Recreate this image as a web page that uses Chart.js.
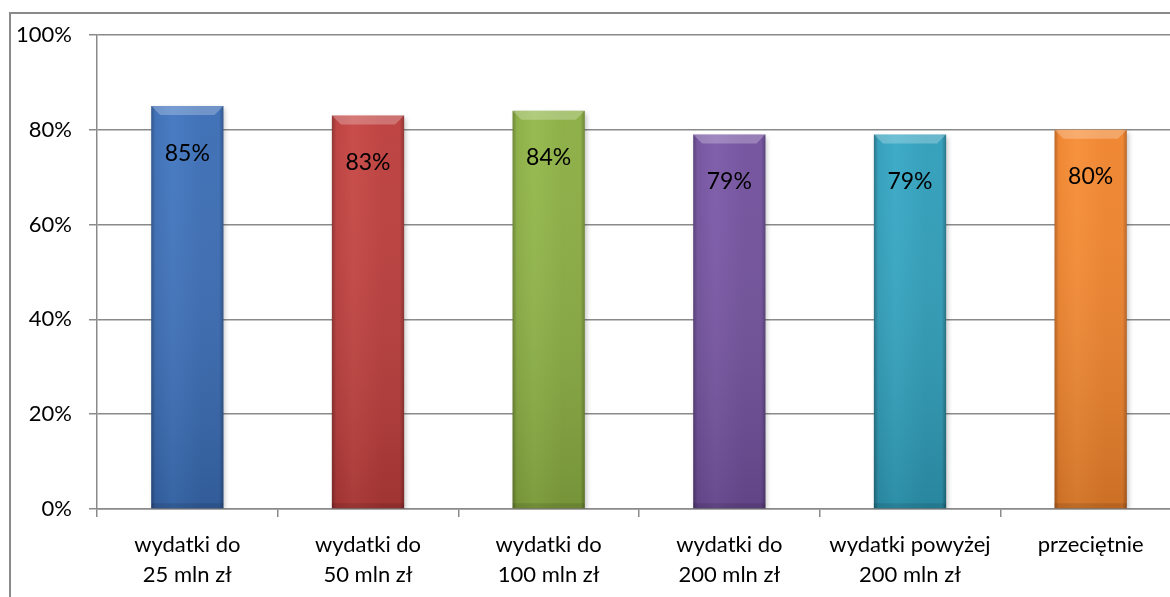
<!DOCTYPE html>
<html lang="pl">
<head>
<meta charset="utf-8">
<title>Wydatki</title>
<script src="https://cdn.jsdelivr.net/npm/chart.js@4"></script>
<style>
  html, body { margin: 0; padding: 0; background: #fff; overflow: hidden; }
  #frame {
    position: absolute; left: 9px; top: 12px;
    width: 1300px; height: 700px;
    border: 2px solid #8a8a8a; box-sizing: border-box;
  }
  #wrap { position: absolute; left: 0; top: 0; width: 1200px; height: 597px; }
</style>
</head>
<body>
<div id="frame"></div>
<div id="wrap"><canvas id="chart"></canvas></div>
<script>
const categories = [
    ['wydatki do', '25 mln zł'],
    ['wydatki do', '50 mln zł'],
    ['wydatki do', '100 mln zł'],
    ['wydatki do', '200 mln zł'],
    ['wydatki powyżej', '200 mln zł'],
    'przeciętnie'
];
const shares = [85, 83, 84, 79, 79, 80];
const yTicks = [0, 20, 40, 60, 80, 100];

// base, light and dark tone per bar
const barBase = ['#3a6cb4', '#bb3d3b', '#8aad42', '#71509c', '#2f9db9', '#ef832c'];
const barLight = ['#4176c0', '#c64643', '#93b84a', '#7b59a8', '#36a8c5', '#f78d35'];
const barDark = ['#2a5088', '#8c2d2c', '#67832f', '#543b75', '#226f84', '#b9601e'];

const BAR_PCT = 0.4;
const FONT = 'Lato, "Liberation Sans", sans-serif';

function barFill(context) {
    const chart = context.chart;
    const i = context.dataIndex;
    const area = chart.chartArea;
    const xs = chart.scales.x;
    if (!area || !xs) return barBase[i];
    const cx = xs.getPixelForValue(i);
    const half = (xs.width / categories.length) * BAR_PCT / 2;
    const g = chart.ctx.createLinearGradient(cx - half, 0, cx + half, 0);
    g.addColorStop(0, barDark[i]);
    g.addColorStop(0.06, barBase[i]);
    g.addColorStop(0.3, barLight[i]);
    g.addColorStop(0.7, barBase[i]);
    g.addColorStop(0.94, barBase[i]);
    g.addColorStop(1, barDark[i]);
    return g;
}

// soft shadow behind the bars
const barShadow = {
    id: 'barShadow',
    beforeDatasetsDraw(chart) {
        const ctx = chart.ctx;
        ctx.save();
        ctx.shadowColor = 'rgba(0,0,0,0.25)';
        ctx.shadowBlur = 5;
        ctx.shadowOffsetX = 2;
        ctx.shadowOffsetY = 2;
    },
    afterDatasetsDraw(chart) {
        chart.ctx.restore();
    }
};

// vertical shading and a bevelled top on every bar, then the value labels
const barFinish = {
    id: 'barFinish',
    afterDatasetsDraw(chart) {
        const ctx = chart.ctx;
        const meta = chart.getDatasetMeta(0);
        meta.data.forEach((bar, i) => {
            const left = bar.x - bar.width / 2;
            const right = bar.x + bar.width / 2;
            const top = bar.y;
            const bottom = bar.base;
            ctx.save();

            const v = ctx.createLinearGradient(0, top, 0, bottom);
            v.addColorStop(0, 'rgba(255,255,255,0.04)');
            v.addColorStop(1, 'rgba(0,0,0,0.15)');
            ctx.fillStyle = v;
            ctx.fillRect(left, top, bar.width, bottom - top);

            const b = 9;
            ctx.fillStyle = 'rgba(255,255,255,0.25)';
            ctx.beginPath();
            ctx.moveTo(left, top);
            ctx.lineTo(right, top);
            ctx.lineTo(right - b, top + b);
            ctx.lineTo(left + b, top + b);
            ctx.closePath();
            ctx.fill();

            ctx.fillStyle = 'rgba(0,0,0,0.1)';
            ctx.fillRect(left, bottom - 5, bar.width, 5);

            ctx.font = '23px ' + FONT;
            ctx.fillStyle = '#000';
            ctx.textAlign = 'center';
            ctx.textBaseline = 'middle';
            ctx.fillText(shares[i] + '%', bar.x, top + 47);
            ctx.restore();
        });
    }
};

const ctx = document.getElementById('chart').getContext('2d');
new Chart(ctx, {
    type: 'bar',
    data: {
        labels: categories,
        datasets: [{
            data: shares,
            backgroundColor: barFill,
            borderWidth: 0,
            barPercentage: BAR_PCT,
            categoryPercentage: 1
        }]
    },
    options: {
        responsive: true,
        maintainAspectRatio: false,
        animation: false,
        layout: { padding: { left: 0, right: 19, top: 35, bottom: 0 } },
        plugins: {
            legend: { display: false },
            tooltip: { enabled: false }
        },
        scales: {
            x: {
                afterFit(scale) { scale.height = 88; },
                grid: {
                    offset: true,
                    drawOnChartArea: false,
                    drawTicks: true,
                    tickLength: 8,
                    color: '#8a8a8a',
                    lineWidth: 1.5
                },
                border: { display: true, color: '#8a8a8a', width: 1.5 },
                ticks: {
                    color: '#000',
                    font: { family: FONT, size: 22, lineHeight: 1.36 },
                    padding: 13,
                    maxRotation: 0,
                    autoSkip: false
                }
            },
            y: {
                min: 0,
                max: 100,
                afterFit(scale) { scale.width = 97; },
                afterBuildTicks(scale) {
                    scale.ticks = yTicks.map(v => ({ value: v }));
                },
                grid: {
                    color: '#8a8a8a',
                    lineWidth: 1.5,
                    tickLength: 8
                },
                border: { display: true, color: '#8a8a8a', width: 1.5 },
                ticks: {
                    color: '#000',
                    font: { family: FONT, size: 22 },
                    padding: 17,
                    callback: v => v + '%'
                }
            }
        }
    },
    plugins: [barShadow, barFinish]
});
</script>
</body>
</html>
